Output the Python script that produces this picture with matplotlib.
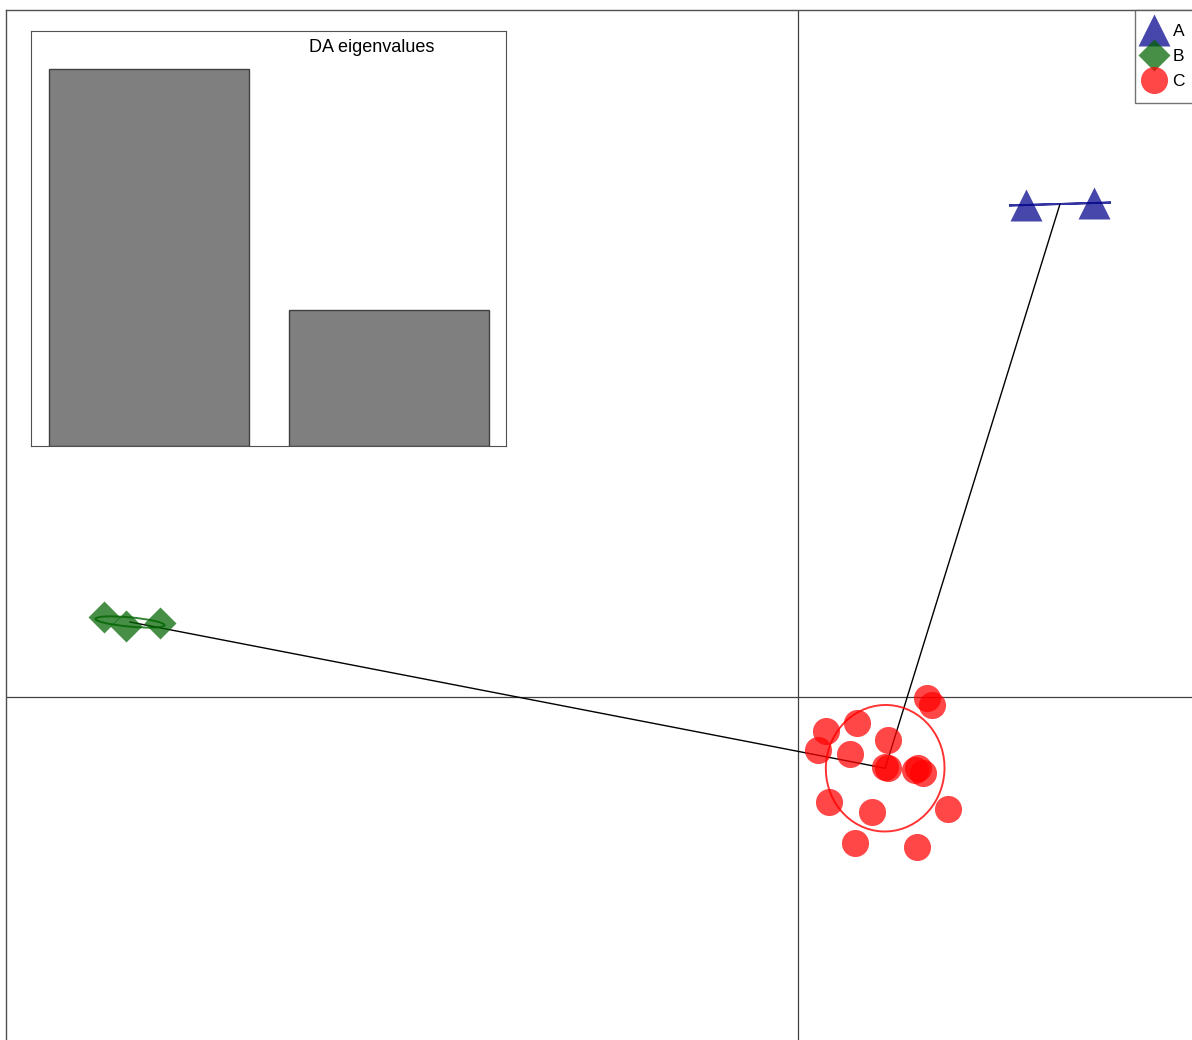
import numpy as np
import matplotlib; matplotlib.use("Agg")
import matplotlib.pyplot as plt
from matplotlib.patches import Ellipse
from matplotlib.lines import Line2D

plt.rcParams["font.family"] = ["Liberation Sans", "DejaVu Sans"]

# ---- data (discriminant functions) ----
a_ld1 = [2.28, 2.96]
a_ld2 = [4.92, 4.94]
b_ld1 = [-6.94, -6.72, -6.38]
b_ld2 = [0.80, 0.71, 0.74]
c_ld1 = [1.29, 1.34, 0.28, 0.59, 0.20, 0.52, 0.90, 0.87, 0.90, 1.17, 1.25,
         1.20, 0.31, 0.74, 1.50, 0.57, 1.19]
c_ld2 = [-0.01, -0.08, -0.34, -0.26, -0.53, -0.57, -0.43, -0.70, -0.71, -0.73,
         -0.76, -0.71, -1.05, -1.15, -1.12, -1.46, -1.50]
eig_values = [1.0, 0.36]
groups = ["A", "B", "C"]
colors = ["darkblue", "darkgreen", "red"]
markers = ["^", "D", "o"]
msizes = [23, 16.5, 19.5]

W, H = 1192, 1040
fig = plt.figure(figsize=(W / 100, H / 100), dpi=100)
ax = fig.add_axes([6 / W, 0, (W - 6) / W, (H - 10) / H])
ax.set_xlim(-7.92, 3.94)
ax.set_ylim(-3.43, 6.87)
for s in ["right", "bottom"]:
    ax.spines[s].set_visible(False)
for s in ["left", "top"]:
    ax.spines[s].set_color("#505050")
    ax.spines[s].set_linewidth(1)
ax.set_xticks([]); ax.set_yticks([])
ax.axhline(0, color="#404040", lw=0.9, zorder=0)
ax.axvline(0, color="#404040", lw=0.9, zorder=0)

data = [(np.array(a_ld1), np.array(a_ld2)),
        (np.array(b_ld1), np.array(b_ld2)),
        (np.array(c_ld1), np.array(c_ld2))]
cents = [(x.mean(), y.mean()) for x, y in data]

# minimum spanning tree between group centroids: C-A and C-B
for i in [0, 1]:
    ax.plot([cents[2][0], cents[i][0]], [cents[2][1], cents[i][1]],
            color="black", lw=1, zorder=2)

for (x, y), col, mk, ms, c in zip(data, colors, markers, msizes, cents):
    ax.plot(x, y, ls="none", marker=mk, ms=ms, color=col, alpha=0.72,
            mec="none", zorder=3)
    cov = np.cov(np.vstack([x, y]), ddof=0)
    vals, vecs = np.linalg.eigh(cov)
    ang = np.degrees(np.arctan2(vecs[1, 1], vecs[0, 1]))
    w = 2 * 1.5 * np.sqrt(max(vals[1], 0))
    h = 2 * 1.5 * np.sqrt(max(vals[0], 0))
    ax.add_patch(Ellipse(c, w, h, angle=ang, fill=False, edgecolor=col,
                         lw=1.4, alpha=0.8, zorder=4))

handles = [Line2D([], [], ls="none", marker=mk, ms=ms, color=col, alpha=0.72,
                  mec="none") for col, mk, ms in zip(colors, markers, msizes)]
leg = fig.legend(handles, groups, loc="upper left",
                 bbox_to_anchor=(1135 / W, 1 - 10 / H), fontsize=12.5,
                 frameon=True, fancybox=False, borderpad=0.82,
                 handletextpad=0.8, labelspacing=0.56, handlelength=0.54,
                 borderaxespad=0)
leg.get_frame().set_edgecolor("#505050")
leg.get_frame().set_linewidth(1)

# inset: DA eigenvalues
ins = fig.add_axes([31 / W, 1 - 446 / H, 475 / W, 415 / H])
ins.bar([0, 1.2], eig_values, width=1, color="#7f7f7f", edgecolor="#404040",
        lw=1)
ins.set_xlim(-0.59, 1.785)
ins.set_ylim(0, 1.1)
ins.set_xticks([]); ins.set_yticks([])
for s in ins.spines.values():
    s.set_color("#505050")
ins.text(0.718, 0.961, "DA eigenvalues", transform=ins.transAxes,
         ha="center", va="center", fontsize=13)

plt.savefig("out.png", dpi=100)
